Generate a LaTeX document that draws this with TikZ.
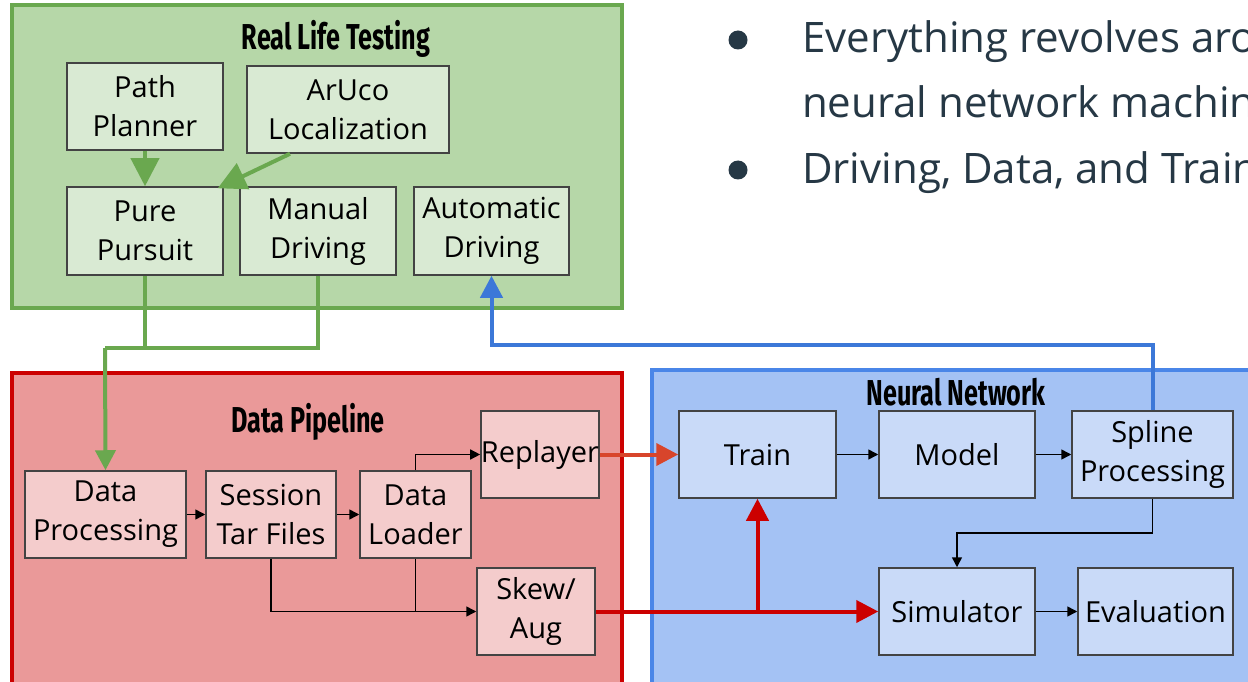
\documentclass[tikz,border=0pt]{standalone}
\usepackage{fontspec}
\setmainfont{Open Sans}
\newfontfamily\titlefont[FakeStretch=0.7]{Fira Sans}
\usetikzlibrary{arrows.meta,calc}
\definecolor{greenpanel}{HTML}{B6D7A8}
\definecolor{greenedge}{HTML}{6AA84F}
\definecolor{greenbox}{HTML}{D9EAD3}
\definecolor{redpanel}{HTML}{EA9999}
\definecolor{rededge}{HTML}{CC0000}
\definecolor{redbox}{HTML}{F4CCCC}
\definecolor{bluepanel}{HTML}{A4C2F4}
\definecolor{blueedge}{HTML}{4A86E8}
\definecolor{bluebox}{HTML}{C9DAF8}
\definecolor{bluelink}{HTML}{3C78D8}
\definecolor{boxedge}{HTML}{434343}
\definecolor{slate}{HTML}{263845}
\definecolor{replaylink}{HTML}{D8452B}

\begin{document}
\begin{tikzpicture}[x=1pt,y=-1pt,
  panel/.style={line width=4pt},
  paneltitle/.style={font=\titlefont\bfseries\fontsize{36}{40}\selectfont},
  box/.style={draw=boxedge, line width=1.5pt, minimum height=87pt, inner sep=0pt,
    align=center, font=\fontsize{29}{39}\selectfont},
  thin/.style={line width=1.5pt, -{Triangle[length=10pt,width=10pt]}},
  greenlink/.style={draw=greenedge, line width=4pt},
  bigtip/.style={-{Triangle[length=#1,width=#1]}},
  bullettext/.style={anchor=base west, text=slate, inner sep=0pt,
    font=\fontsize{42}{50}\selectfont}]
\clip (0,0) rectangle (1248,682);
\fill[white] (0,0) rectangle (1248,682);

\draw[panel, fill=greenpanel, draw=greenedge] (12,5) rectangle (622,308);
\draw[panel, fill=redpanel, draw=rededge] (12,373) rectangle (622,710);
\draw[panel, fill=bluepanel, draw=blueedge] (652,370) rectangle (1270,710);

\node[paneltitle] (rltitle) at (336,39) {Real Life Testing};
\node[paneltitle] (dptitle) at (308,422) {Data Pipeline};
\node[paneltitle] (nntitle) at (956,392) {Neural Network};

\node[box, fill=greenbox, minimum width=156pt] (planner) at (145,106.5) {Path\\Planner};
\node[box, fill=greenbox, minimum width=202pt] (aruco) at (348,109.5) {ArUco\\Localization};
\node[box, fill=greenbox, minimum width=156pt, minimum height=88pt] (pursuit) at (145,231) {Pure\\Pursuit};
\node[box, fill=greenbox, minimum width=156pt, minimum height=88pt] (manual) at (318,231) {Manual\\Driving};
\node[box, fill=greenbox, minimum width=155pt, minimum height=88pt] (automatic) at (491.5,231) {Automatic\\Driving};

\node[box, fill=redbox, minimum width=161pt] (dataproc) at (105.5,514.5) {Data\\Processing};
\node[box, fill=redbox, minimum width=130pt] (session) at (271,514.5) {Session\\Tar Files};
\node[box, fill=redbox, minimum width=111pt] (loader) at (415.5,514.5) {Data\\Loader};
\node[box, fill=redbox, minimum width=110pt] (replayer) at (540,454.5) {Replayer};
\node[box, fill=redbox, minimum width=118pt] (skew) at (536,611.5) {Skew/\\Aug};

\node[box, fill=bluebox, minimum width=157pt] (train) at (757.5,454.5) {Train};
\node[box, fill=bluebox, minimum width=156pt] (model) at (957,454.5) {Model};
\node[box, fill=bluebox, minimum width=161pt] (spline) at (1152.5,454.5) {Spline\\Processing};
\node[box, fill=bluebox, minimum width=156pt] (simulator) at (957,611.5) {Simulator};
\node[box, fill=bluebox, minimum width=155pt] (evaluation) at (1155.5,611.5) {Evaluation};

\node[circle, fill=slate, minimum size=19pt, inner sep=0pt] (dot1) at (738,40) {};
\node[circle, fill=slate, minimum size=19pt, inner sep=0pt] (dot2) at (738,170) {};
\node[bullettext] (line1) at (802,53) {Everything revolves aro};
\node[bullettext] (line2) at (802,118) {neural network machin};
\node[bullettext] (line3) at (802,183) {Driving, Data, and Train};

\coordinate (greenturn) at (105,348);
\coordinate (blueturn) at (491.5,345);
\draw[greenlink, bigtip=28pt] (planner.south) -- (pursuit.north);
\draw[greenlink, bigtip=28pt] ($(aruco.south)+(-58,0)$) -- ($(pursuit.north east)+(-6,2)$);
\draw[greenlink] (pursuit.south) -- (pursuit.south |- greenturn);
\draw[greenlink] (manual.south) |- (greenturn);
\draw[greenlink, bigtip=20pt] (greenturn) -- (dataproc.north);
\draw[draw=bluelink, line width=4pt, bigtip=22pt] (spline.north) |- (blueturn) -- (automatic.south);

\draw[thin] (dataproc.east) -- (session.west);
\draw[thin] (session.east) -- (loader.west);
\draw[thin] (loader.north) |- (replayer.west);
\draw[thin] (session.south) |- (skew.west);
\draw[line width=1.5pt] (loader.south) -- (loader.south |- skew.west);
\draw[thin] (train.east) -- (model.west);
\draw[thin] (model.east) -- (spline.west);
\draw[thin] (spline.south) -- ++(0,34) -| (simulator.north);
\draw[thin] (simulator.east) -- (evaluation.west);

\draw[draw=replaylink, line width=4pt, bigtip=22pt] (replayer.east) -- (train.west);
\draw[draw=rededge, line width=4pt, bigtip=22pt] (skew.east) -- (simulator.west);
\draw[draw=rededge, line width=4pt, bigtip=22pt] (train.south |- skew.east) -- (train.south);
\end{tikzpicture}
\end{document}
